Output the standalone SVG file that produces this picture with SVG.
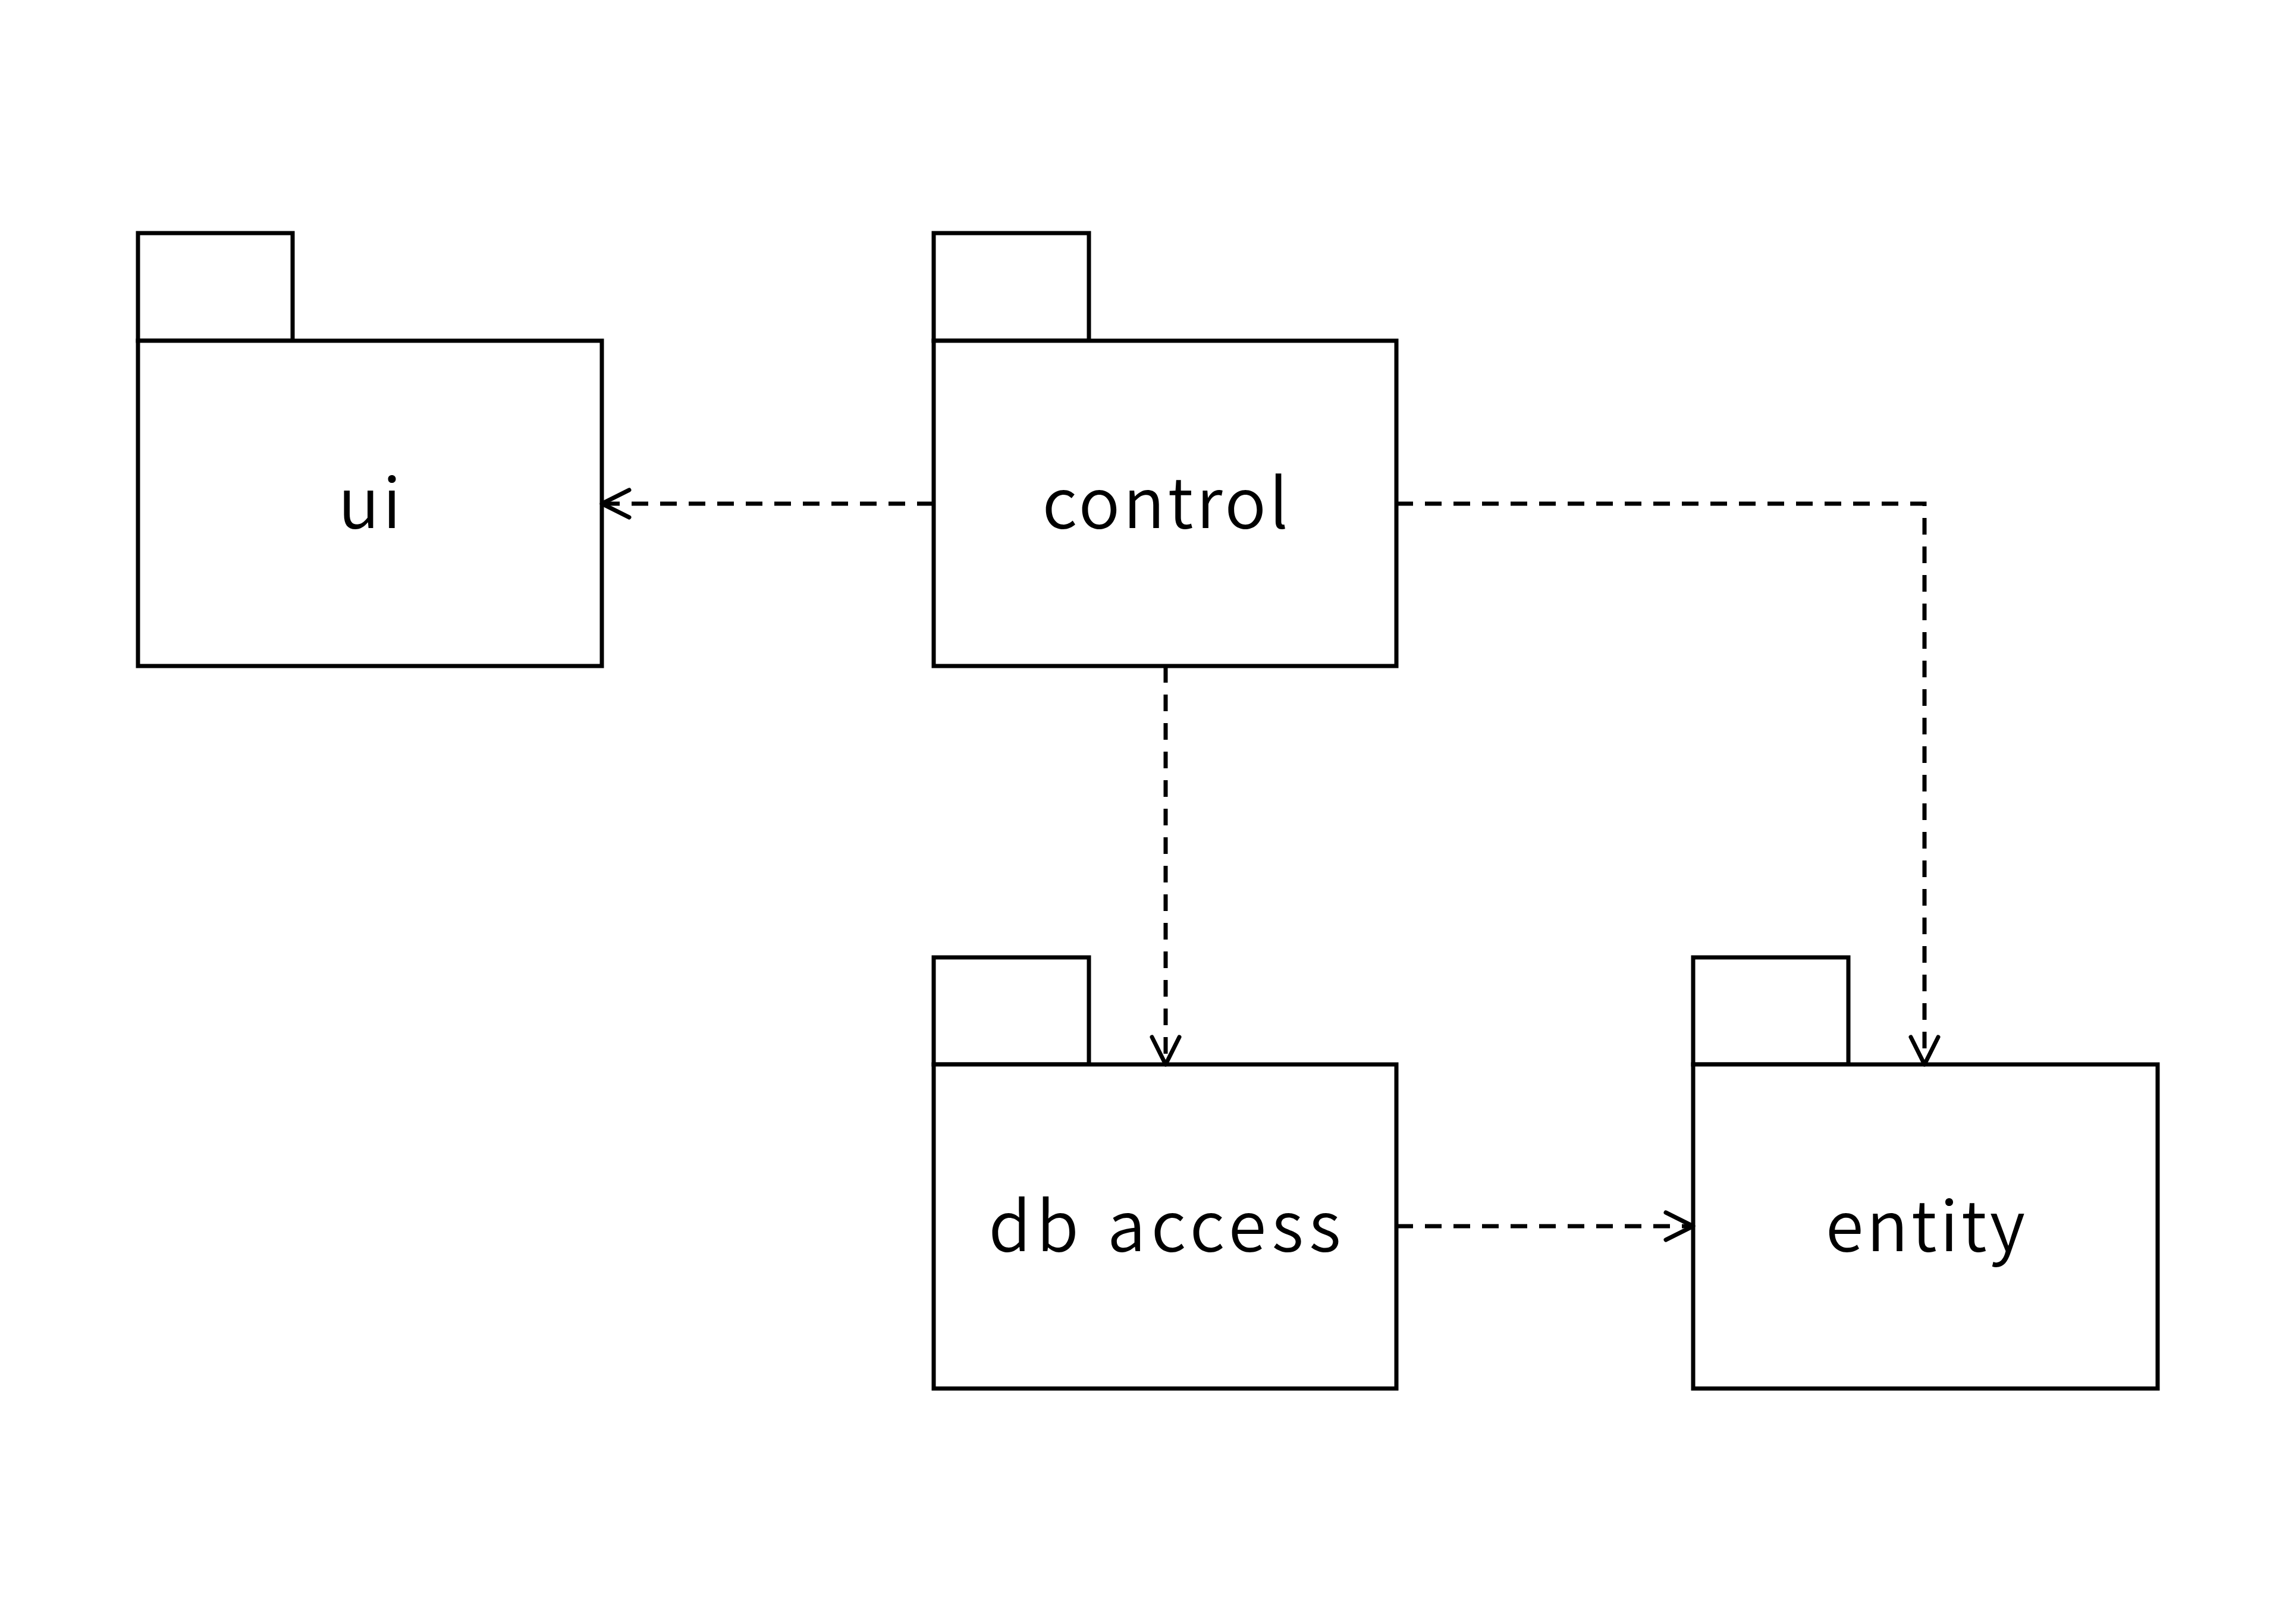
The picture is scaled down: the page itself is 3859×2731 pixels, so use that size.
<svg xmlns="http://www.w3.org/2000/svg" width="3859" height="2731" viewBox="0 0 3859 2731">
<style>
.box{fill:#fff;stroke:#000;stroke-width:7}
.lbl{font-family:"Noto Sans CJK JP","Noto Sans",sans-serif;font-size:116px;letter-spacing:5px;font-weight:350;fill:#000;text-anchor:middle}
.dep{fill:none;stroke:#000;stroke-width:7;stroke-dasharray:28 20}
</style>
<defs>
<marker id="open" markerUnits="userSpaceOnUse" markerWidth="70" markerHeight="70" viewBox="-60 -35 70 70" refX="0" refY="0" orient="auto">
<path d="M-46,-23 L0,0 L-46,23" fill="none" stroke="#000" stroke-width="7" stroke-linecap="round" stroke-linejoin="round"/>
</marker>
</defs>
<rect width="3859" height="2731" fill="#fff"/>
<g id="ui">
<rect class="box" x="232" y="392" width="260" height="181"/>
<rect class="box" x="232" y="573" width="780" height="547"/>
<text class="lbl" x="624" y="888">ui</text>
</g>
<g id="control">
<rect class="box" x="1570" y="392" width="261" height="181"/>
<rect class="box" x="1570" y="573" width="778" height="547"/>
<text class="lbl" x="1962" y="888">control</text>
</g>
<g id="db_access">
<rect class="box" x="1570" y="1610" width="261" height="180"/>
<rect class="box" x="1570" y="1790" width="778" height="545"/>
<text class="lbl" x="1963" y="2104" style="letter-spacing:9px;word-spacing:4px">db access</text>
</g>
<g id="entity">
<rect class="box" x="2847" y="1610" width="261" height="180"/>
<rect class="box" x="2847" y="1790" width="781" height="545"/>
<text class="lbl" x="3240" y="2104">entity</text>
</g>
<g id="connectors">
<path class="dep" d="M1570,847 L1012,847" marker-end="url(#open)"/>
<path class="dep" d="M1960,1120 L1960,1790" marker-end="url(#open)"/>
<path class="dep" d="M2348,847 L3236,847 L3236,1790" marker-end="url(#open)"/>
<path class="dep" d="M2348,2062 L2847,2062" marker-end="url(#open)"/>
</g>
</svg>
